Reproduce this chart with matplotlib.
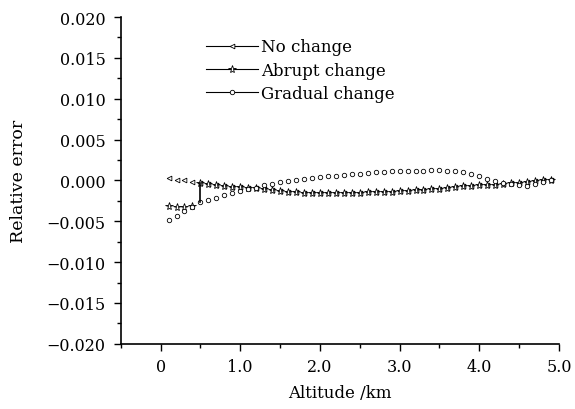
import numpy as np
import matplotlib
matplotlib.use("Agg")
import matplotlib.pyplot as plt
from matplotlib.ticker import MultipleLocator, FuncFormatter
from matplotlib.lines import Line2D

plt.rcParams['font.family'] = ['DejaVu Serif']
plt.rcParams['font.size'] = 11.5

# altitude samples (km)
altitude = np.round(np.arange(0.1, 4.95, 0.1), 1)

# shared part of the no change / abrupt change curves from 0.5 km upwards
upper = [-0.0003, -0.0004, -0.0005, -0.0007, -0.0008, -0.0008, -0.0009, -0.0009,
         -0.0010, -0.0012, -0.0013, -0.0014, -0.0014, -0.0015, -0.0015, -0.0015,
         -0.0015, -0.0015, -0.0015, -0.0015, -0.0015, -0.0014, -0.0014, -0.0014,
         -0.0014, -0.0013, -0.0013, -0.0012, -0.0012, -0.0011, -0.0010, -0.0009,
         -0.0008, -0.0007, -0.0007, -0.0006, -0.0005, -0.0005, -0.0004, -0.0003,
         -0.0003, -0.0002, -0.0001, 0.0000, 0.0001]

no_change = [0.0003, 0.0001, 0.0000, -0.0002] + upper
abrupt_change = [-0.0031, -0.0032, -0.0032, -0.0031] + upper
abrupt_jump = (0.5, -0.0027)  # bottom of the step at the change height

gradual_change = [-0.0048, -0.0043, -0.0037, -0.0032, -0.0027, -0.0024, -0.0021,
                  -0.0018, -0.0016, -0.0013, -0.0011, -0.0009, -0.0006, -0.0004,
                  -0.0002, -0.0001, 0.0000, 0.0002, 0.0003, 0.0004, 0.0005, 0.0006,
                  0.0007, 0.0008, 0.0008, 0.0009, 0.0010, 0.0010, 0.0011, 0.0011,
                  0.0012, 0.0012, 0.0012, 0.0013, 0.0013, 0.0012, 0.0012, 0.0010,
                  0.0008, 0.0005, 0.0002, -0.0001, -0.0003, -0.0004, -0.0005,
                  -0.0007, -0.0004, -0.0002, 0.0000]

fig = plt.figure(figsize=(5.75, 4.1), dpi=100)
ax = fig.add_axes([0.21, 0.159, 0.762, 0.797])

mk = dict(linewidth=0.8, color='black', markerfacecolor='white',
          markeredgecolor='black', markeredgewidth=0.6)
styles = [('<', 3.4), ('*', 5.8), ('o', 3.2)]

for ys, (m, s) in zip([no_change, abrupt_change, gradual_change], styles):
    ax.plot(altitude, ys, marker=m, markersize=s, linestyle='none', **mk)

i5 = list(altitude).index(abrupt_jump[0])
ax.plot([abrupt_jump[0], abrupt_jump[0]], [abrupt_jump[1], abrupt_change[i5]],
        color='black', linewidth=1.2)

ax.set_xlim(-0.5, 5.0)
ax.set_ylim(-0.020, 0.020)
ax.xaxis.set_major_locator(MultipleLocator(1.0))
ax.xaxis.set_minor_locator(MultipleLocator(0.5))
ax.yaxis.set_major_locator(MultipleLocator(0.005))
ax.yaxis.set_minor_locator(MultipleLocator(0.0025))
ax.xaxis.set_major_formatter(FuncFormatter(lambda v, p: '0' if abs(v) < 1e-9 else '%.1f' % v))
ax.yaxis.set_major_formatter(FuncFormatter(lambda v, p: ('%.3f' % v).replace('-', '\u2212')
                                           if abs(v) > 1e-9 else '0.000'))
ax.tick_params(which='major', direction='out', length=5, width=1)
ax.tick_params(which='minor', direction='out', length=3, width=1)
ax.tick_params(axis='y', which='major', pad=6)
ax.tick_params(axis='x', which='major', pad=5)

for s in ['top', 'right']:
    ax.spines[s].set_visible(False)
for s in ['left', 'bottom']:
    ax.spines[s].set_linewidth(1.2)

ax.set_xlabel('Altitude /km', labelpad=7, fontsize=12)
ax.set_ylabel('Relative error', labelpad=14, fontsize=12.5)

handles = [Line2D([], [], marker=m, markersize=s, **mk) for m, s in styles]
ax.legend(handles, ['No change', 'Abrupt change', 'Gradual change'],
          loc='upper left', bbox_to_anchor=(0.18, 0.955), frameon=False,
          fontsize=12, handlelength=3.1, handletextpad=0.2, labelspacing=0.38,
          borderaxespad=0)

fig.savefig('out.png', dpi=100)
